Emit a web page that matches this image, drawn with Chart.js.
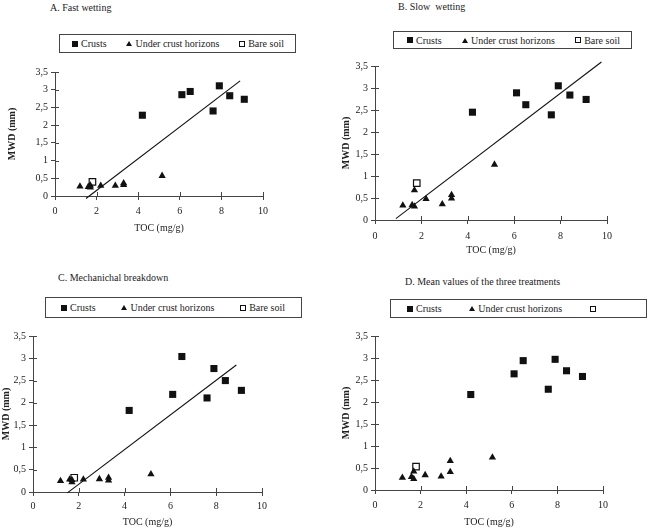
<!DOCTYPE html>
<html>
<head>
<meta charset="utf-8">
<script src="https://cdn.jsdelivr.net/npm/chart.js@4.4.1/dist/chart.umd.min.js"></script>
<style>
  html,body{margin:0;padding:0;background:#fff;overflow:hidden;width:655px;height:528px;}
  .ttl{position:absolute;font-family:"Liberation Serif",serif;font-size:10px;color:#222;white-space:pre;line-height:12px;}
  .lg{position:absolute;box-sizing:border-box;border:1px solid #444;display:flex;align-items:center;justify-content:space-between;font-family:"Liberation Serif",serif;font-size:10px;color:#222;white-space:nowrap;}
  .it{display:flex;align-items:center;}
  .mk{display:inline-block;margin-right:3px;box-sizing:border-box;}
  .sq{width:6px;height:6px;background:#111;}
  .tr{width:0;height:0;border-left:3px solid transparent;border-right:3px solid transparent;border-bottom:5px solid #111;}
  .os{width:6px;height:6px;border:1px solid #111;background:#fff;}
  canvas{position:absolute;}
</style>
</head>
<body>
<script>
// ---------------- data ----------------
const panelTitles = ["A. Fast wetting", "B. Slow  wetting", "C. Mechanichal breakdown", "D. Mean values of the three treatments"];
const seriesNamesABC = ["Crusts", "Under crust horizons", "Bare soil"];
const seriesNamesD = ["Crusts", "Under crust horizons", ""];
const xTitle = "TOC (mg/g)";
const yTitle = "MWD (mm)";
const yTickLabels = ["0", "0,5", "1", "1,5", "2", "2,5", "3", "3,5"];

const crustTOC = [4.2, 6.1, 6.5, 7.6, 7.9, 8.4, 9.1];
const crustA = [2.28, 2.86, 2.95, 2.40, 3.11, 2.83, 2.73];
const crustB = [2.45, 2.89, 2.62, 2.39, 3.05, 2.84, 2.74];
const crustC = [1.83, 2.19, 3.04, 2.11, 2.77, 2.50, 2.28];
const crustD = [2.17, 2.64, 2.94, 2.29, 2.97, 2.71, 2.58];

const underTOC = [1.2, 1.6, 1.7, 1.7, 2.2, 2.9, 3.3, 3.3, 5.15];
const underA = [0.27, 0.26, 0.30, 0.24, 0.29, 0.29, 0.31, 0.36, 0.57];
const underB = [0.33, 0.34, 0.68, 0.31, 0.48, 0.36, 0.49, 0.57, 1.26];
const underC = [0.25, 0.28, 0.22, 0.27, 0.28, 0.29, 0.26, 0.32, 0.40];
const underD = [0.28, 0.30, 0.25, 0.42, 0.34, 0.31, 0.41, 0.66, 0.74];

const bareTOC = [1.8];
const bareA = [0.40];
const bareB = [0.84];
const bareC = [0.32];
const bareD = [0.53];

// regression line end points [x0, x1], [y0, y1]
const lineAX = [1.49, 8.9],  lineAY = [-0.07, 3.25];
const lineBX = [0.9, 9.76],  lineBY = [0.03, 3.59];
const lineCX = [1.5, 8.88],  lineCY = [-0.02, 2.85];

// ---------------- layout (positions only) ----------------
const panels = [
  {title:panelTitles[0], names:seriesNamesABC, crust:crustA, under:underA, bare:bareA, lx:lineAX, ly:lineAY,
   t:{x:50,y:2}, lg:{x:59,y:34,w:237,h:19,pl:12,pr:11},
   cv:{x:0,y:60,w:283,h:197}, padL:6, wy:49, hx:38, padB:23, tickPad:5},
  {title:panelTitles[1], names:seriesNamesABC, crust:crustB, under:underB, bare:bareB, lx:lineBX, ly:lineBY,
   t:{x:398,y:1}, lg:{x:393,y:31,w:239,h:18,pl:13,pr:11},
   cv:{x:325,y:54,w:302,h:205}, padL:15, wy:35, hx:36, padB:3, tickPad:6},
  {title:panelTitles[2], names:seriesNamesABC, crust:crustC, under:underC, bare:bareC, lx:lineCX, ly:lineCY,
   t:{x:58,y:272}, lg:{x:45,y:297,w:257,h:21,pl:15,pr:16},
   cv:{x:0,y:324,w:282,h:206}, padL:0, wy:33, hx:36, padB:2, tickPad:4},
  {title:panelTitles[3], names:seriesNamesD, crust:crustD, under:underD, bare:bareD, lx:null, ly:null,
   t:{x:405,y:276}, lg:{x:390,y:299,w:257,h:19,pl:16,pr:47},
   cv:{x:325,y:324,w:298,h:206}, padL:15, wy:35, hx:38, padB:2, tickPad:5}
];

const innerTicks = {
  id:'innerTicks',
  afterDatasetsDraw(chart){
    const {ctx, chartArea:a, scales:{x, y}} = chart;
    ctx.save();
    ctx.strokeStyle = '#444'; ctx.lineWidth = 1;
    ctx.beginPath();
    x.ticks.forEach(t => { const p = Math.round(x.getPixelForValue(t.value)) + 0.5; ctx.moveTo(p, a.bottom); ctx.lineTo(p, a.bottom - 4); });
    y.ticks.forEach(t => { const p = Math.round(y.getPixelForValue(t.value)) + 0.5; ctx.moveTo(a.left, p); ctx.lineTo(a.left + 4, p); });
    ctx.stroke();
    ctx.restore();
  }
};

function pts(xs, ys){ return xs.map((v,i)=>({x:v, y:ys[i]})); }

const font = {family:'"Liberation Serif", serif', size:10};

panels.forEach((p) => {
  const t = document.createElement('div');
  t.className = 'ttl'; t.textContent = p.title;
  t.style.left = p.t.x + 'px'; t.style.top = p.t.y + 'px';
  document.body.appendChild(t);

  const c = document.createElement('canvas');
  c.width = p.cv.w; c.height = p.cv.h;
  c.style.left = p.cv.x + 'px'; c.style.top = p.cv.y + 'px';
  c.style.width = p.cv.w + 'px'; c.style.height = p.cv.h + 'px';
  document.body.appendChild(c);

  const datasets = [
    {label:p.names[0], data:pts(crustTOC, p.crust), pointStyle:'rect', pointRadius:5, backgroundColor:'#111', borderColor:'#111', borderWidth:0, showLine:false, mk:'sq'},
    {label:p.names[1], data:pts(underTOC, p.under), pointStyle:'triangle', pointRadius:4.2, backgroundColor:'#111', borderColor:'#111', borderWidth:0, showLine:false, mk:'tr'},
    {label:p.names[2], data:pts(bareTOC, p.bare), pointStyle:'rect', pointRadius:4.6, backgroundColor:'#fff', borderColor:'#111', borderWidth:1.2, showLine:false, mk:'os'}
  ];
  if (p.lx) {
    datasets.push({label:'trend', type:'line', data:pts(p.lx, p.ly), borderColor:'#111', borderWidth:1.1, pointRadius:0, fill:false, clip:false, tension:0, inLegend:false});
  }

  const chart = new Chart(c, {
    type:'scatter',
    data:{datasets},
    options:{
      responsive:false, animation:false, devicePixelRatio:1,
      layout:{padding:{left:p.padL, top:12, right:20, bottom:p.padB}},
      plugins:{legend:{display:false}, tooltip:{enabled:false}, title:{display:false}},
      scales:{
        x:{type:'linear', min:0, max:10,
           ticks:{stepSize:2, font, color:'#222', padding:p.tickPad, maxRotation:0},
           grid:{drawOnChartArea:false, drawTicks:true, tickLength:4, color:'#444'},
           border:{display:true, color:'#444', width:1},
           title:{display:true, text:xTitle, font, color:'#222', padding:0},
           afterFit(s){ s.height = p.hx; }},
        y:{type:'linear', min:0, max:3.5,
           ticks:{stepSize:0.5, font, color:'#222', padding:3, callback:(v,i)=>yTickLabels[i]},
           grid:{drawOnChartArea:false, drawTicks:true, tickLength:4, color:'#444'},
           border:{display:true, color:'#444', width:1},
           title:{display:true, text:yTitle, font:{family:font.family, size:10, weight:'bold'}, color:'#222', padding:0},
           afterFit(s){ s.width = p.wy; }}
      }
    },
    plugins:[innerTicks]
  });

  const lg = document.createElement('div');
  lg.className = 'lg';
  lg.style.left = p.lg.x + 'px'; lg.style.top = p.lg.y + 'px';
  lg.style.width = p.lg.w + 'px'; lg.style.height = p.lg.h + 'px';
  lg.style.paddingLeft = p.lg.pl + 'px'; lg.style.paddingRight = p.lg.pr + 'px';
  chart.data.datasets.filter(d => d.inLegend !== false).forEach(d => {
    const it = document.createElement('span'); it.className = 'it';
    const m = document.createElement('span'); m.className = 'mk ' + d.mk;
    it.appendChild(m);
    const tx = document.createElement('span'); tx.textContent = d.label;
    it.appendChild(tx);
    lg.appendChild(it);
  });
  document.body.appendChild(lg);
});
</script>
</body>
</html>
